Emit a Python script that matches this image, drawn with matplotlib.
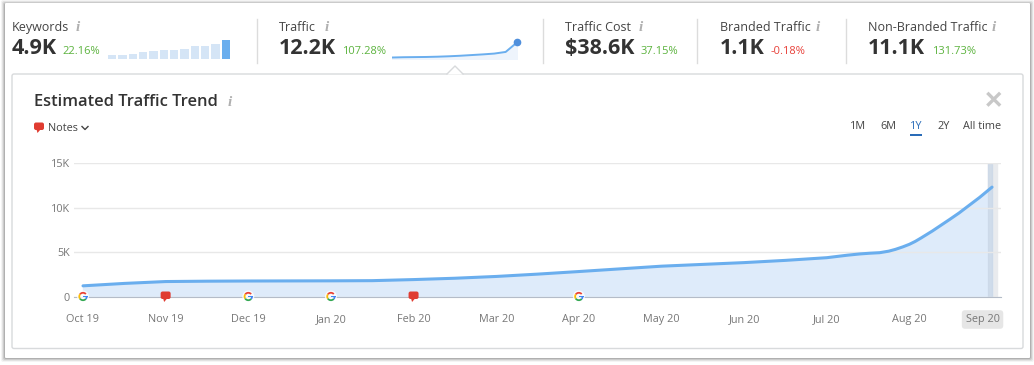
import matplotlib
matplotlib.use('Agg')
import matplotlib.pyplot as plt
from matplotlib.patches import FancyBboxPatch, Polygon, Rectangle, Wedge, Circle
from matplotlib.transforms import ScaledTranslation

plt.rcParams['font.family'] = ['Open Sans', 'DejaVu Sans']

W, H = 1034, 365

# main chart
month_labels = ['Oct 19', 'Nov 19', 'Dec 19', 'Jan 20', 'Feb 20', 'Mar 20', 'Apr 20',
                'May 20', 'Jun 20', 'Jul 20', 'Aug 20', 'Sep 20']
trend_x = [0, 0.5, 1, 1.5, 2, 2.5, 3, 3.5, 4, 4.5, 5, 5.5, 6, 6.5, 7, 7.5, 8, 8.5, 9,
           9.25, 9.4, 9.52, 9.64, 9.75, 9.83, 9.92, 10, 10.07, 10.14, 10.21, 10.28, 10.38, 10.49,
           10.6, 10.7, 10.85, 11]
trend_y = [1250, 1520, 1730, 1770, 1790, 1800, 1810, 1830, 1950, 2100, 2300, 2560, 2850,
           3150, 3450, 3650, 3850, 4100, 4400,
           4680, 4820, 4900, 4960, 5130, 5330, 5610, 5900, 6220, 6600, 7000, 7400, 8020, 8700,
           9400, 10100, 11150, 12300]
y_ticks = [0, 5000, 10000, 15000]
y_labels = ['0', '5K', '10K', '15K']
google_months = [0, 2, 3, 6]
note_months = [1, 4]

# header sparklines
keyword_bars = [3, 3, 3.5, 5, 6, 7, 7, 8, 10, 10, 12, 15]
traffic_spark = [1.1, 1.3, 1.4, 1.5, 1.7, 2.0, 2.4, 2.9, 3.4, 4.0, 5.2, 12.2]

# header tiles: label, value, change, label x, change x, info x, divider x
tile_labels = ['Keywords', 'Traffic', 'Traffic Cost', 'Branded Traffic', 'Non-Branded Traffic']
tile_values = ['4.9K', '12.2K', '$38.6K', '1.1K', '11.1K']
tile_changes = ['22.16%', '107.28%', '37.15%', '-0.18%', '131.73%']
tile_x = [12, 279, 565, 720, 868]
change_x = [62, 342, 641, 771, 932]
info_x = [78, 327, 641, 818, 994]
divider_x = [257, 543, 697, 846]

ranges = ['1M', '6M', '1Y', '2Y', 'All time']
range_x = [850, 880, 910, 937, 963]

DARK = '#333333'
GREY = '#777777'
GREEN = '#5cb33e'
RED = '#e8413a'
BLUE = '#6aaeee'
PALE = '#deebfa'


def px_axes(left, top, right, bottom, z):
    return fig.add_axes([left / W, 1 - bottom / H, (right - left) / W, (bottom - top) / H], zorder=z)


def overlay(z):
    a = px_axes(0, 0, W, H, z)
    a.set_xlim(0, W)
    a.set_ylim(H, 0)
    a.axis('off')
    a.patch.set_alpha(0)
    return a


def month_px(m):
    return 83 + m * 82.64


def box(a, x0, y0, x1, y1, r=2, **kw):
    p = FancyBboxPatch((x0 + r, y0 + r), x1 - x0 - 2 * r, y1 - y0 - 2 * r,
                       boxstyle=f'round,pad={r},rounding_size={r}', **kw)
    a.add_patch(p)


def note_icon(a, x, y):
    box(a, x - 5, y - 4.5, x + 5, y + 3, r=2, fc='#e03c31', ec='none')
    a.add_patch(Polygon([[x - 2.5, y + 2.5], [x + 1.5, y + 2.5], [x - 1.5, y + 6]], fc='#e03c31', ec='none'))


def google_icon(a, x, y):
    a.add_patch(Circle((x, y), 6, fc='white', ec='none', alpha=0.8))
    a.add_patch(Wedge((x, y), 4.6, 215, 320, width=1.8, fc='#ea4335', ec='none'))
    a.add_patch(Wedge((x, y), 4.6, 145, 215, width=1.8, fc='#fbbc05', ec='none'))
    a.add_patch(Wedge((x, y), 4.6, 40, 145, width=1.8, fc='#34a853', ec='none'))
    a.add_patch(Wedge((x, y), 4.6, 0, 40, width=1.8, fc='#4285f4', ec='none'))
    a.add_patch(Rectangle((x, y - 0.9), 4.8, 1.8, fc='#4285f4', ec='none'))


def info_icon(a, x, y):
    a.text(x, y, 'i', family='Liberation Serif', style='italic', fontweight='bold',
           fontsize=11, color='#b0b0b0', ha='center', va='baseline')


fig = plt.figure(figsize=(W / 100, H / 100), dpi=100, facecolor='white')

bg = overlay(0)
for grow, alpha in [(4, 0.06), (3, 0.1), (2, 0.14), (1, 0.2)]:
    box(bg, 5 - grow, 3 - grow + 1, 1030 + grow, 358 + grow, r=2, fc='#444444', ec='none', alpha=alpha)
box(bg, 5, 3, 1030, 358, r=1, fc='white', ec='none')
box(bg, 12, 74, 1023, 348.5, r=2, fc='white', ec='#d8dadc', lw=1)
bg.add_patch(Polygon([[447, 74.5], [455, 66], [463, 74.5]], fc='white', ec='none', zorder=4))
bg.plot([447, 455, 463], [74, 66, 74], color='#d8dadc', lw=1, zorder=5)

for x in divider_x:
    bg.plot([x, x], [19, 63], color='#dcdcdc', lw=1)

for i in range(5):
    bg.text(tile_x[i], 31, tile_labels[i], fontsize=9, color='#444444', va='baseline')
    bg.text(tile_x[i], 54, tile_values[i], fontsize=15.5, fontweight='bold', color=DARK, va='baseline')
    col = RED if tile_changes[i].startswith('-') else GREEN
    bg.text(change_x[i], 54, tile_changes[i], fontsize=8, color=col, va='baseline')
    info_icon(bg, info_x[i], 31)

# keywords bars
ax_bars = px_axes(107, 40, 231, 58.5, 1)
ax_bars.bar(range(12), keyword_bars, width=0.78,
            color=['#d5e5f6'] * 11 + [BLUE])
ax_bars.set_xlim(-0.5, 11.5)
ax_bars.set_ylim(0, 15)
ax_bars.axis('off')

# traffic sparkline
ax_spark = px_axes(392, 40, 517, 59, 1)
ax_spark.fill_between(range(12), traffic_spark, color='#eef4fc')
ax_spark.plot(range(12), traffic_spark, color=BLUE, lw=1.4)
ax_spark.plot(11, traffic_spark[-1], 'o', ms=4.5, color='#4f8fdc', clip_on=False)
ax_spark.set_xlim(0, 11)
ax_spark.set_ylim(0, 14)
ax_spark.axis('off')

bg.text(34, 106, 'Estimated Traffic Trend', fontsize=11.9, fontweight='semibold', color=DARK, va='baseline')
info_icon(bg, 230, 106)
note_icon(bg, 39, 127)
bg.text(48, 131, 'Notes', fontsize=7.8, color='#444444', va='baseline')
bg.plot([82, 85, 88], [126.5, 129.5, 126.5], color='#444444', lw=1)
bg.plot([988.5, 999], [94, 104.5], color='#c8c8c8', lw=2.4)
bg.plot([988.5, 999], [104.5, 94], color='#c8c8c8', lw=2.4)

for label, x in zip(ranges, range_x):
    col = '#2a6cb8' if label == '1Y' else '#444444'
    bg.text(x, 129, label, fontsize=7.8, color=col, va='baseline')
bg.add_patch(Rectangle((910, 134), 12, 2.2, fc='#2a6cb8', ec='none'))

# trend chart
ax = px_axes(74, 163, 1001, 297, 1)
ax.patch.set_alpha(0)
ax.set_xlim((74 - 83) / 82.64, (1001 - 83) / 82.64)
ax.set_ylim(0, 15000)
ax.axvspan(10.95, 11.06, color='#e9ebee', zorder=0)
ax.fill_between(trend_x, trend_y, color=PALE, zorder=1)
ax.axvspan(10.95, 11.0, color='#c9d6e6', alpha=0.7, zorder=2)
ax.plot(trend_x, trend_y, color=BLUE, lw=2.2, zorder=3, solid_capstyle='round')
ax.set_yticks(y_ticks)
ax.set_yticklabels(y_labels)
ax.set_xticks(range(12))
ax.set_xticklabels(month_labels, va='baseline')
ax.grid(axis='y', color='#e8e8e8', lw=1, zorder=1.5)
ax.set_axisbelow(False)
ax.tick_params(axis='both', length=0, labelsize=7.8, labelcolor=GREY)
ax.tick_params(axis='x', pad=18)
ax.tick_params(axis='y', pad=3)
for s in ['top', 'left', 'right']:
    ax.spines[s].set_visible(False)
ax.spines['bottom'].set_color('#b4bcc8')
# last month label sits left of its tick so it stays inside the plot
last = ax.get_xticklabels()[-1]
last.set_transform(last.get_transform() + ScaledTranslation(-9.5 / 100, 0, fig.dpi_scale_trans))
last.set_bbox(dict(boxstyle='round,pad=0.35,rounding_size=0.3', fc='#e6e6e6', ec='none'))

fg = overlay(3)
for m in google_months:
    google_icon(fg, month_px(m), 296.5)
for m in note_months:
    note_icon(fg, month_px(m), 296)

fig.savefig('out.png', dpi=100)
